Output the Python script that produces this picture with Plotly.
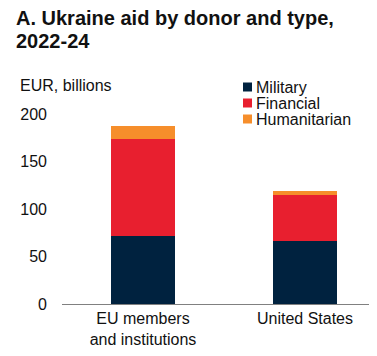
import plotly.graph_objects as go

categories = ["EU members<br>and institutions", "United States"]
military = [72, 66]
financial = [102, 49]
humanitarian = [13, 4]
series_names = ["Military", "Financial", "Humanitarian"]
colors = ["#00223F", "#E81F2F", "#F68E2B"]
y_ticks = [0, 50, 100, 150, 200]

W, H = 377, 356
OFF = 8  # page body margin
L, R, T = 62 - OFF, 0, 114 - OFF
PH = 190
B = H - T - PH
FONT = "Liberation Sans, Arial, sans-serif"

fig = go.Figure()
for name, vals, col in zip(series_names, [military, financial, humanitarian], colors):
    fig.add_trace(go.Bar(x=[0, 1], y=vals, name=name, marker=dict(color=col, line=dict(width=0)),
                         showlegend=False))

fig.update_layout(
    width=W, height=H, barmode="stack", bargap=0.6,
    margin=dict(l=L, r=R, t=T, b=B, pad=0),
    paper_bgcolor="white", plot_bgcolor="white",
    font=dict(family=FONT, size=16, color="#111111"),
    xaxis=dict(range=[-0.5, 1.494], tickmode="array", tickvals=[0, 1], ticktext=categories,
               showline=True, linecolor="#808080", linewidth=1, ticks="", showgrid=False,
               zeroline=False, tickfont=dict(size=16)),
    yaxis=dict(range=[0, 200], tickvals=y_ticks, showgrid=False, zeroline=False, showline=False,
               ticks="", ticklabelstandoff=14, tickfont=dict(size=16)),
)

def px2x(px):
    return (px - OFF - L) / (W - L - R)

def py2y(py):
    return 1 - (py - OFF - T) / PH

# Title
fig.add_annotation(text="<b>A. Ukraine aid by donor and type,</b>", xref="paper", yref="paper",
                   x=px2x(14), y=py2y(31), xanchor="left", yanchor="bottom", showarrow=False,
                   font=dict(size=20, color="#111111"))
fig.add_annotation(text="<b>2022-24</b>", xref="paper", yref="paper",
                   x=px2x(14), y=py2y(54), xanchor="left", yanchor="bottom", showarrow=False,
                   font=dict(size=20, color="#111111"))
# Unit label
fig.add_annotation(text="EUR, billions", xref="paper", yref="paper",
                   x=px2x(18), y=py2y(85), xanchor="left", yanchor="middle", showarrow=False,
                   font=dict(size=16))

# Legend
for i, (name, col) in enumerate(zip(series_names, colors)):
    cy = 87 + 16 * i
    fig.add_shape(type="rect", xref="paper", yref="paper",
                  x0=px2x(243), x1=px2x(252), y0=py2y(cy - 4.5), y1=py2y(cy + 4.5),
                  fillcolor=col, line=dict(width=0))
    fig.add_annotation(text=name, xref="paper", yref="paper", x=px2x(254), y=py2y(cy),
                       xanchor="left", yanchor="middle", showarrow=False, font=dict(size=16))

fig.write_html("out.html")
